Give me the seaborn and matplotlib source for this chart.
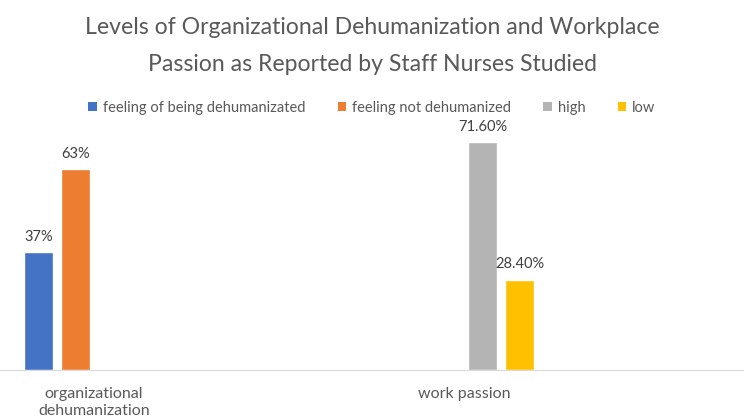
import pandas as pd
import numpy as np
import matplotlib.pyplot as plt
import seaborn as sns
from matplotlib.patches import Patch

# Values
categories = ['organizational\ndehumanization', 'work passion']
series = ['feeling of being dehumanizated', 'feeling not dehumanized', 'high', 'low']
group_of_series = ['organizational\ndehumanization', 'organizational\ndehumanization', 'work passion', 'work passion']
values = [37, 63, 71.6, 28.4]
value_labels = ['37%', '63%', '71.60%', '28.40%']
colors = ['#4472C4', '#ED7D31', '#B4B4B4', '#FFC000']

df = pd.DataFrame({'category': group_of_series, 'series': series, 'value': values})

sns.set_style('white')
plt.rcParams['font.family'] = ['Lato', 'DejaVu Sans']

fig = plt.figure(figsize=(7.44, 4.18), dpi=100)
ax = fig.add_axes([0, 48 / 418, 1, 254.7 / 418])

sns.barplot(data=df, x='category', y='value', hue='series', order=categories,
            hue_order=series, palette=colors, width=0.4, gap=0.2,
            saturation=1, legend=False, ax=ax)

for cont, lab in zip(ax.containers, value_labels):
    ax.bar_label(cont, labels=[lab] * len(cont), padding=6, fontsize=10.5, color='#404040')

ax.set_xlim(-94 / 370, 650 / 370)
ax.set_ylim(0, 80)
ax.set_yticks([])
ax.set_xlabel('')
ax.set_ylabel('')
for s in ['top', 'left', 'right']:
    ax.spines[s].set_visible(False)
ax.spines['bottom'].set_color('#D9D9D9')
ax.tick_params(axis='x', length=0, pad=12, labelsize=11.5, labelcolor='#595959')
for t in ax.get_xticklabels():
    t.set_linespacing(1.3)

fig.text(0.5, 1 - 46 / 418, 'Levels of Organizational Dehumanization and Workplace\nPassion as Reported by Staff Nurses Studied',
         ha='center', va='center', fontsize=16.6, color='#595959', linespacing=1.9)

handles = [Patch(facecolor=c, edgecolor='none') for c in colors]
fig.legend(handles, series, loc='center', bbox_to_anchor=(0.5, 1 - 108 / 418), ncol=4,
           frameon=False, fontsize=10.5, labelcolor='#595959', handlelength=0.6,
           handleheight=0.6, handletextpad=0.4, columnspacing=2.2)

fig.savefig('out.png', dpi=100)
